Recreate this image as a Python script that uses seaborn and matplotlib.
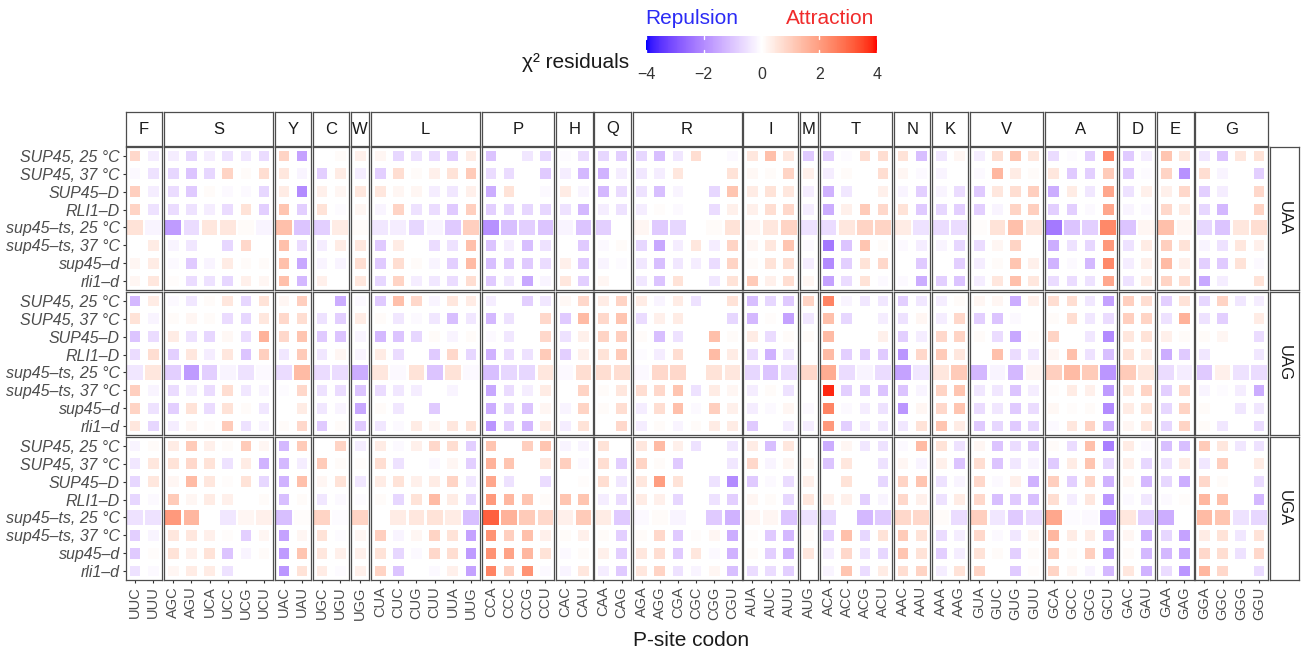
import numpy as np
import pandas as pd
import matplotlib
matplotlib.use("Agg")
import matplotlib.pyplot as plt
from matplotlib.colors import ListedColormap, Normalize
import matplotlib.cm as cm
import seaborn as sns

# ---------------------------------------------------------------- data
stop_codons = ["UAA", "UAG", "UGA"]

strains = [
    "SUP45, 25 \u00b0C", "SUP45, 37 \u00b0C", "SUP45\u2013D", "RLI1\u2013D",
    "sup45\u2013ts, 25 \u00b0C", "sup45\u2013ts, 37 \u00b0C", "sup45\u2013d", "rli1\u2013d",
]

amino_acids = ["F", "S", "Y", "C", "W", "L", "P", "H", "Q", "R",
               "I", "M", "T", "N", "K", "V", "A", "D", "E", "G"]

codons = [
    ["UUC", "UUU"],
    ["AGC", "AGU", "UCA", "UCC", "UCG", "UCU"],
    ["UAC", "UAU"],
    ["UGC", "UGU"],
    ["UGG"],
    ["CUA", "CUC", "CUG", "CUU", "UUA", "UUG"],
    ["CCA", "CCC", "CCG", "CCU"],
    ["CAC", "CAU"],
    ["CAA", "CAG"],
    ["AGA", "AGG", "CGA", "CGC", "CGG", "CGU"],
    ["AUA", "AUC", "AUU"],
    ["AUG"],
    ["ACA", "ACC", "ACG", "ACU"],
    ["AAC", "AAU"],
    ["AAA", "AAG"],
    ["GUA", "GUC", "GUG", "GUU"],
    ["GCA", "GCC", "GCG", "GCU"],
    ["GAC", "GAU"],
    ["GAA", "GAG"],
    ["GGA", "GGC", "GGG", "GGU"],
]

# chi-square residuals, one row per strain, codons in the order above
uaa_residuals = [
    [0.8, -0.3, -0.3, -0.7, -0.3, -0.5, -0.4, -0.6, 0.9, -1.6, 0, 0.1, 0.3, 0.2, -0.7, -0.5, -0.6, -0.8, 0.4,
     -1.0, 0, -0.4, -0.7, -0.05, -0.6, -0.7, -0.8, -0.7, -1.1, -0.4, 0.7, 0, -0.1, 0.5, 1.3, 0.5, -0.9,
     -0.8, -0.05, 0.7, 0.7, 0.6, -1.1, -0.4, 0.2, -0.3, 0.7, 1.2, 0.5, -0.6, -0.05, -0.8, 2.5, -0.9, -0.3,
     1.2, 0.5, -0.4, -1.0, 0.5, 0.6],
    [-0.1, -0.5, -0.7, -1.0, -0.7, 0.9, 0.1, 0.7, 0.5, -0.2, -0.8, 0.4, -0.3, -0.8, 0.7, 0.1, 0.3, 0.6, 1.1,
     -0.6, -0.6, 0, -0.9, -0.3, -1.2, -1.3, -0.3, -0.4, -0.3, 0.5, 0, 0, 0.6, 0.15, 0.1, 0.9, 0.3,
     -0.3, 0.1, 0, 0.7, 0.2, -0.1, -0.2, 0, -0.1, 1.5, 0.4, 0.1, 0.5, -0.9, -0.8, 1.1, -0.9, -0.05,
     0.9, -1.9, 0.7, -0.2, 0, -0.8],
    [1.0, -0.3, -0.6, -0.9, 0.1, -0.1, -0.1, -0.7, 0.4, -2.0, 0.3, 0.2, 0.5, 0.5, 0.2, 0.2, -0.3, -0.4, 0.3,
     -1.4, 0.6, 0, -0.1, 0.4, -0.2, -1.2, -0.6, -0.5, -1.1, -0.2, 0, -0.7, 1.2, 0.4, 0.6, 0.5, -0.3,
     -1.3, -0.4, 0, 0.3, -0.2, -0.8, -0.2, -0.6, -0.9, 0.5, 0.7, 1.0, -1.4, 0.4, -0.4, 1.8, -0.5, 0.3,
     0.3, 0.8, -0.8, -0.3, 0, 0.8],
    [0.9, -0.5, -0.6, -0.5, -0.3, -0.6, 0.6, -0.8, 1.2, -0.8, 0.6, -0.05, 0.2, -0.2, 0.9, -0.5, -0.6, -0.9, 1.0,
     -0.8, -0.7, -0.7, -0.7, -0.5, -1.2, -0.3, -0.5, -0.3, 0.05, -0.1, 0, -0.6, 0.3, 0.3, 0.7, 0.8, -0.3,
     -1.4, 0.3, 1.1, 0.8, 0.6, -0.9, -0.7, -0.8, -0.8, -0.2, 0.9, 1.0, -0.8, -0.8, -0.1, 1.8, -0.2, -0.1,
     0.8, 0.4, -0.7, -1.2, 0, 0.9],
    [0.6, -0.2, -1.7, -0.6, 0.5, 0.5, 0.1, -0.2, 1.3, -1.0, -0.8, 0.4, 0.1, -0.4, -0.3, -0.7, -0.2, -0.9, 1.0,
     -1.9, -1.1, -0.8, -1.0, -0.2, -1.0, -0.8, 0, 0.2, -0.9, -0.7, 0, 0.1, 0.6, 0.2, 0.5, 0.9, -0.5,
     -0.6, 0.5, 0.9, 0.9, 0.4, -0.5, -0.6, -0.6, 0.05, 0.6, 1.3, 0.5, -2.3, -1.0, -0.8, 2.4, -1.0, 0.2,
     1.3, 0.2, -0.7, -1.0, 0.5, 0.7],
    [0, 0.4, -0.2, -0.4, 0, -0.7, 0.8, 0, 1.3, -0.6, -0.3, 0.4, 0.5, -0.9, 0.4, 0, -0.6, -0.5, 1.3,
     -1.0, -0.3, -1.1, -0.5, 0, -0.9, -0.1, 0.1, -0.7, -1.5, -0.3, 0.5, -0.3, 0.9, 0.2, 0.5, 1.2, -0.1,
     -2.3, -1.0, 1.2, 0.1, -0.1, -0.3, -0.2, -0.7, -0.6, 0.2, 0.9, 0, -1.4, -0.5, -0.7, 2.1, -0.5, 0.4,
     1.0, 0.6, -0.2, -0.5, 0.5, 0.3],
    [0.2, 0.4, -0.1, -0.9, -0.2, 0.4, 0.1, 0.1, 1.3, -1.5, -0.2, -0.2, 0.7, -0.9, 0.7, 0.1, -0.2, -0.8, 1.4,
     -1.1, -0.9, -0.9, -0.6, 0.3, -0.9, -0.2, -0.05, -0.4, -1.1, -0.4, -0.3, -0.6, 0.9, 0.1, 0.6, 0.7, -0.3,
     -2.0, -0.8, 0.6, 0.8, 0, -0.9, 0, -0.8, -0.3, 0.1, 1.2, 0.3, -1.3, -0.1, -1.2, 2.4, -0.3, 0.3,
     1.4, 0.3, -0.8, -0.9, 0.6, -0.1],
    [0.2, 0.5, 0.05, -0.6, -0.5, -0.7, 0.3, 0.2, 1.3, -1.2, 0.3, 0, 0.5, -0.7, 0.9, -0.3, -0.4, -0.6, 0.7,
     -0.9, -0.4, -1.5, -0.2, 0.5, -0.8, 0.2, 0, -0.4, -1.0, 0.6, 0, -0.4, 0.6, 1.1, 0.3, 0.7, 0.2,
     -1.6, -0.6, 0.6, -0.1, -0.1, -1.4, -0.8, -1.0, -0.3, 0.5, 1.3, 0.5, -0.6, -0.6, -0.5, 1.8, -0.5, 0.4,
     0.9, 0.7, -1.5, -0.3, 0, 0.6],
]

uag_residuals = [
    [-1.2, 0.4, -0.1, -0.4, 0.1, 0.5, -0.7, 0.6, 0.2, 1.0, 0, -1.4, -0.1, -0.9, 1.3, 0.8, -0.2, 0.5, 0.4,
     -0.3, 0, -0.8, -0.4, 0.15, 0.8, 0.4, 0.9, 0.4, -0.2, 0.4, -0.5, 0, 0.6, -1.1, -0.7, -0.9, 0.9,
     2.5, -0.2, -0.4, -0.4, -0.8, -0.4, -0.3, 0.1, 0.2, 0.2, -1.4, 0.3, 0.7, 0.7, -0.4, -1.6, 1.0, 0.7,
     -0.8, 0.6, -0.7, 0.9, -0.4, -0.3],
    [0.6, -0.2, 0.1, 0.2, 0.1, -0.6, -0.7, 0.5, 0.8, 0.7, -0.5, -0.8, 0.4, 0.1, -0.4, -0.1, -0.4, -1.1, -0.4,
     -1.2, -0.5, 0, 0.8, -0.9, 1.4, 0.8, 1.2, -0.6, 0.3, 0.4, 0, 0, -0.7, -1.2, 0.05, -1.6, -0.4,
     1.3, -0.7, 0, -0.3, -0.5, 0.2, -0.3, 0.8, -0.8, -1.0, -0.1, 0, 0.1, 0.7, -0.4, -0.6, 1.0, 0.9,
     -0.5, 1.6, -0.5, -0.8, 0, 0.4],
    [-1.0, -0.6, 0.4, -0.5, -0.7, 0.15, -0.6, 1.6, 0.8, 1.2, -0.9, -1.0, -0.2, -1.2, -1.0, -0.7, 0.1, -0.2, 0.1,
     -0.1, -0.4, 0, 0.8, -0.5, 0.3, 0.9, 1.0, 0.1, -1.1, -0.5, 0, 1.3, 0.1, 0.4, -0.6, 0.1, 0.1,
     1.4, 0, 0, 0.3, -0.8, -0.3, 0.8, 0.9, 0.1, -0.6, -1.5, 0.05, 0.9, 0, -0.4, -2.0, 0.5, 0.6,
     0.3, 0.1, 0.1, 0.2, 0, -0.6],
    [-0.6, 0.7, -0.8, 0.5, -0.3, 0.5, -1.0, 1.0, -0.4, 1.1, -0.4, 0.2, -0.2, 0.4, -0.6, 0, -0.9, 0.8, -0.7,
     -1.3, -0.6, -0.5, 1.1, -0.8, 0.3, 0.6, 1.1, -0.05, -0.3, 0.7, 0, 1.4, 0.4, -0.6, -1.3, -0.4, 0,
     1.4, -0.8, -0.8, -0.9, -1.8, 0.8, 1.1, 0.5, 0, 1.3, -0.6, -0.4, 0.2, 1.3, -0.5, -1.1, 0.6, 0.4,
     -1.4, -0.9, -0.4, 0, 0, -0.4],
    [-0.4, 0.5, -0.8, -1.7, -0.8, -0.2, -0.5, -0.1, -0.6, 1.4, -0.6, -0.6, -1.4, 0.5, -0.1, 0.6, -1.0, 0.6, -0.1,
     -1.1, -0.7, -0.7, 0.5, -0.1, 0.7, 0.7, 0.7, -0.1, 0.8, 0.8, 0, 0.6, 0.5, -0.7, -1.0, -0.6, 0.8,
     1.7, -0.6, -0.2, -0.6, -1.6, -0.4, 0.5, 1.1, -1.2, -0.2, -1.2, 0.2, 1.0, 1.4, 1.1, -1.8, 1.1, 0.5,
     -0.6, -0.3, -0.9, 0.3, -0.5, -0.6],
    [1.0, -0.2, -0.6, -0.3, -0.6, 0.7, -0.4, -0.2, -0.05, 0.8, -0.5, -0.6, -1.0, -0.6, -0.4, -0.3, 0, -0.2, 0,
     -1.5, -0.6, -0.3, 0.4, 0, 0.9, 0.1, 0.5, 0.7, 0.8, 1.2, -0.5, 0.4, 0.2, -0.3, 0.1, -0.5, 0,
     3.8, -0.8, -0.8, -1.0, -1.0, -0.2, 0.9, 1.2, -0.4, -0.4, -1.0, -0.3, 0.05, 0.4, 0.3, -1.7, 0.5, 0.9,
     -0.8, 0.8, -0.2, -0.05, -0.3, -1.4],
    [0.9, -0.5, -0.8, 0.6, -0.6, 0.6, 0.1, -0.4, 0, 0.4, -0.4, -0.2, -1.5, 0.1, -0.4, 0, -0.9, 0, 0,
     -1.4, -0.7, -1.0, 0.2, -0.2, 0.9, 0.1, 0.7, -0.3, 0.7, 1.3, -0.1, 1.0, 0.3, -0.3, -0.1, 0.2, -0.1,
     2.5, -0.1, -0.3, -0.5, -1.8, 0.2, 0.8, 1.2, -0.6, -0.4, -0.9, -0.6, 0.15, 0.05, 0.1, -2.0, 0.4, 0.6,
     -0.7, 0.9, 0.1, 0, -0.4, -0.4],
    [0.5, -0.7, -0.3, 0.2, 0.05, 1.1, -0.5, -0.2, 0.1, 0.8, -0.9, 0.1, -0.9, -0.4, -0.1, 0.4, 0.2, 0.5, 0.6,
     -1.8, -0.8, -1.2, 0.4, -0.3, 0.6, 0, 0.8, -0.3, 0.1, -0.2, 0.1, 0.4, 0.4, -0.9, 0, -0.3, -0.3,
     2.1, -0.8, -0.3, -0.4, -0.4, 0.6, 1.2, 0.4, -0.9, -0.7, -0.9, -0.7, -0.1, 0.5, 0.9, -1.4, 0.2, 0.5,
     -0.7, 0.9, 0.1, -0.4, 0, -0.6],
]

uga_residuals = [
    [-0.2, 0.1, 0.4, 1.1, 0.3, 0.1, 1.1, 0.2, -1.2, 1.1, 0, 0.9, -0.3, 0.4, -0.1, 0.3, 0.8, 0.7, -0.8,
     1.2, 0, 1.0, 1.2, -0.2, -0.2, 0.6, 0, 0.5, 1.4, 0.3, -0.5, 0, -0.4, 0.4, -1.1, 0.5, 0,
     -1.4, 0.2, -0.4, -0.5, -0.1, 1.4, 0.6, -0.5, 0.2, -1.0, -0.6, -0.8, 0.1, -0.6, 1.3, -2.2, 0.4, -0.1,
     -1.1, -1.1, 1.1, 0.5, -0.4, -0.5],
    [-0.4, 0.5, 0.6, 0.8, 0.6, -0.5, 0.4, -1.3, -1.2, -0.3, 1.1, 0.1, 0.05, 0.7, -0.5, 0, -0.1, 0.2, -0.8,
     1.6, 1.2, 0, 0.5, 1.0, -0.1, 0.7, -0.8, 0.9, 0.1, -0.9, 0, 0, -0.4, 0.8, -0.2, 0.2, 0.15,
     -1.0, 0.5, 0, -0.5, 0.2, -0.2, 0.3, -1.0, 0.7, -1.0, -0.4, -0.2, -0.9, 0.4, 1.2, -0.7, 0.3, -0.7,
     -0.5, 0.4, -0.4, 1.0, 0, 0.4],
    [-0.7, 0.5, 0.2, 1.4, 0.5, 0.05, 0.6, -0.7, -1.3, 1.3, 0.2, 0.6, -0.4, 0.4, 0.6, 0.3, 0.4, 0.9, -0.4,
     1.8, -0.5, 0, -0.6, 0, 0.05, 0.7, -0.4, 0.5, 2.0, 0.6, 0, -0.5, -2.0, -0.9, -0.1, -0.6, 0.3,
     0, 0.6, 0, -0.7, 0.9, 1.2, -0.5, -0.2, 0.8, -0.1, 0.3, -1.3, 1.0, -0.8, 0.9, -1.3, 0.2, -1.2,
     -0.7, -1.4, 0.8, 0.1, 0, -0.6],
    [-0.7, -0.1, 1.1, 0.2, 0.4, 0.3, 0, 0.1, -1.1, 0.1, -0.4, -0.1, -0.05, 0.1, -0.7, 0.6, 1.4, 0.4, -0.7,
     2.1, 1.5, 1.2, 0.1, 1.2, 1.2, -0.3, -0.6, 0.4, 0.3, -0.7, 0, -0.5, -0.8, 0.2, 0.1, -0.7, 0.5,
     0.3, 0.3, -0.8, -0.2, 0.8, 0.3, -0.5, 0.4, 0.8, -1.1, -0.9, -1.1, 0.7, -0.3, 0.5, -1.8, -0.1, -0.4,
     -0.1, 0.05, 1.5, 1.3, 0, -1.2],
    [-0.5, -0.5, 2.1, 1.5, 0, -0.4, 0.2, 0.3, -1.1, 0.05, 0.9, -0.05, 0.9, 0, 0.4, 0.5, 0.6, 0.4, -1.1,
     3.1, 1.6, 1.1, 0.8, 0.3, 1.1, 0.4, -0.9, -0.1, 0.1, -0.2, 0, -0.9, -1.3, 0.2, 0.2, -1.0, -0.5,
     -0.7, 0, -1.2, -0.9, 0.8, 0.8, 0.1, -0.6, 1.0, -0.4, -0.9, -0.6, 1.8, -0.05, -0.1, -1.8, 0.5, -0.8,
     -1.4, 0, 1.4, 1.2, -0.5, -0.7],
    [-0.8, -0.2, 0.5, 0.5, 0.3, 0.05, -0.8, 0.2, -1.6, 0.2, 0.6, -0.05, 0.2, 1.0, -0.2, 0.2, 0.9, 0.6, -1.6,
     2.2, 1.0, 1.3, 0.3, 0.1, 0.3, 0.1, -0.8, 0.1, 0.8, -0.9, 0.05, 0.2, -1.4, 0.05, -0.9, -1.2, 0.1,
     -0.8, 1.3, -0.7, 0.6, 1.1, 0.6, -0.6, -0.3, 0.8, -0.1, -0.4, 0.2, 1.5, 0.4, 0.4, -1.5, 0.2, -1.4,
     -0.7, -1.6, 0.4, 0.6, -0.4, 0.6],
    [-0.9, 0.05, 0.6, 0.3, 0.6, -1.0, -0.2, 0.1, -1.7, 1.2, 0.5, 0.3, 0.3, 0.6, -0.7, -0.1, 0.8, 0.7, -1.7,
     2.2, 1.9, 1.5, 0.6, -0.1, 0.1, 0.3, -0.8, 0.5, 0.7, -0.9, 0.5, -0.1, -1.3, 0.1, -0.8, -1.3, 0.5,
     -0.3, 0.8, -0.5, -0.7, 1.2, 0.6, -0.8, -0.3, 0.6, 0.1, -0.8, 0.1, 1.1, 0.1, 1.0, -1.7, 0.1, -1.2,
     -1.2, -1.5, 0.8, 0.7, -0.5, 0.8],
    [-0.5, -0.1, 0.2, 0.4, 0.4, -0.5, 0, 0, -1.8, 0.6, 0.4, -0.05, 0.3, 0.9, -1.0, 0, -0.1, 0.3, -1.6,
     2.5, 1.0, 2.2, -0.1, -0.2, 0.5, -0.3, -0.9, 0.5, 0.9, -0.5, -0.2, 0.2, -1.1, -0.6, -0.6, -0.8, 0,
     -0.2, 1.2, -0.6, 0.4, 0.7, 0.9, -0.3, 0.6, 0.9, 0, -0.9, 0.05, 0.9, 0.2, -0.2, -1.2, 0.5, -1.3,
     -0.6, -1.8, 1.5, 0.8, 0, -0.6],
]

# the high-depth sample is drawn with full-size tiles
wide_tile_strain = "sup45\u2013ts, 25 \u00b0C"

# ---------------------------------------------------------------- long table
all_codons = [c for group in codons for c in group]
codon_aa = [aa for aa, group in zip(amino_acids, codons) for _ in group]
codon_pos = [i for group in codons for i in range(len(group))]

records = []
for stop, table in zip(stop_codons, [uaa_residuals, uag_residuals, uga_residuals]):
    for r, (strain, values) in enumerate(zip(strains, table)):
        for codon, aa, pos, v in zip(all_codons, codon_aa, codon_pos, values):
            records.append(dict(stop=stop, strain=strain, row=r, aa=aa, codon=codon,
                                pos=pos, residual=v,
                                tile="wide" if strain == wide_tile_strain else "narrow"))
df = pd.DataFrame(records)

# ---------------------------------------------------------------- colour scale (Lab interpolation)
_M = np.array([[0.4124564, 0.3575761, 0.1804375],
               [0.2126729, 0.7151522, 0.0721750],
               [0.0193339, 0.1191920, 0.9503041]])
_WHITE = np.array([0.95047, 1.0, 1.08883])


def srgb_to_lab(rgb):
    c = np.asarray(rgb, float)
    lin = np.where(c <= 0.04045, c / 12.92, ((c + 0.055) / 1.055) ** 2.4)
    t = (_M @ lin) / _WHITE
    d = 6 / 29
    f = np.where(t > d ** 3, np.cbrt(t), t / (3 * d * d) + 4 / 29)
    return np.array([116 * f[1] - 16, 500 * (f[0] - f[1]), 200 * (f[1] - f[2])])


def lab_to_srgb(lab):
    L, a, b = lab
    fy = (L + 16) / 116
    fx, fz = fy + a / 500, fy - b / 200
    d = 6 / 29
    finv = lambda f: np.where(f > d, f ** 3, 3 * d * d * (f - 4 / 29))
    xyz = np.array([finv(fx), finv(fy), finv(fz)]) * _WHITE
    lin = np.clip(np.linalg.solve(_M, xyz), 0, 1)
    return np.clip(np.where(lin <= 0.0031308, 12.92 * lin, 1.055 * lin ** (1 / 2.4) - 0.055), 0, 1)


low, mid, high = srgb_to_lab([0, 0, 1]), srgb_to_lab([1, 1, 1]), srgb_to_lab([1, 0, 0])
colors = []
for t in np.linspace(-1, 1, 257):
    lab = mid + (low - mid) * (-t) if t < 0 else mid + (high - mid) * t
    colors.append(lab_to_srgb(lab))
residual_cmap = ListedColormap(colors)
norm = Normalize(-4, 4)

# ---------------------------------------------------------------- figure
sns.set_theme(style="white")
plt.rcParams["font.family"] = ["Liberation Sans", "DejaVu Sans"]

W, H = 1306, 654
fig = plt.figure(figsize=(W / 100, H / 100), dpi=100)


def box(x, y, w, h):
    return [x / W, 1 - (y + h) / H, w / W, h / H]


frame_col = "#4D4D4D"
frame_lw = 0.9
left, right = 126.0, 1268.0
gap = 1.8
unit = (right - left - gap * (len(amino_acids) - 1)) / len(all_codons)
panel_top, panel_gap = 147.0, 2.0
panel_h = (580.0 - panel_top - 2 * panel_gap) / 3

x0 = left
x_starts = []
for group in codons:
    x_starts.append(x0)
    x0 += unit * len(group) + gap


def frame(ax):
    for sp in ax.spines.values():
        sp.set_visible(True)
        sp.set_color(frame_col)
        sp.set_linewidth(frame_lw)


for i, stop in enumerate(stop_codons):
    y = panel_top + i * (panel_h + panel_gap)
    for j, (aa, group) in enumerate(zip(amino_acids, codons)):
        n = len(group)
        ax = fig.add_axes(box(x_starts[j], y, unit * n, panel_h))
        sub = df[(df.stop == stop) & (df.aa == aa)]
        sns.scatterplot(data=sub, x="pos", y="row", hue="residual", palette=residual_cmap,
                        hue_norm=norm, size="tile", sizes={"wide": 128, "narrow": 59},
                        marker="s", linewidth=0, edgecolor="none", legend=False, ax=ax)
        ax.set_xlim(-0.5, n - 0.5)
        ax.set_ylim(7.5, -0.5)
        ax.set_xlabel("")
        ax.set_ylabel("")
        ax.set_xticks(range(n))
        ax.set_yticks(range(len(strains)))
        if i == len(stop_codons) - 1:
            ax.set_xticklabels(group, rotation=90, fontsize=10.5, color="#4D4D4D")
            ax.tick_params(axis="x", bottom=True, length=2.5, width=0.8, color="#333333", pad=2)
        else:
            ax.set_xticklabels([])
            ax.tick_params(axis="x", bottom=False)
        if j == 0:
            ax.set_yticklabels(strains, fontsize=11.5, color="#4D4D4D", style="italic")
            ax.tick_params(axis="y", left=True, length=2.5, width=0.8, color="#333333", pad=2)
        else:
            ax.set_yticklabels([])
            ax.tick_params(axis="y", left=False)
        frame(ax)

        if i == 0:
            st = fig.add_axes(box(x_starts[j], 112, unit * n, 34))
            st.set_xticks([])
            st.set_yticks([])
            frame(st)
            st.text(0.5, 0.5, aa, ha="center", va="center", fontsize=12, color="#1A1A1A",
                    transform=st.transAxes)

    rs = fig.add_axes(box(right + 2, y, 29, panel_h))
    rs.set_xticks([])
    rs.set_yticks([])
    frame(rs)
    rs.text(0.5, 0.5, stop, ha="center", va="center", rotation=-90, fontsize=12,
            color="#1A1A1A", transform=rs.transAxes)

fig.text(691 / W, 1 - 640 / H, "P-site codon", ha="center", va="center", fontsize=15, color="#1A1A1A")

# ---------------------------------------------------------------- legend
cax = fig.add_axes(box(646, 36, 231, 17))
cb = fig.colorbar(cm.ScalarMappable(norm=norm, cmap=residual_cmap), cax=cax, orientation="horizontal")
cb.outline.set_visible(False)
cb.set_ticks([-4, -2, 0, 2, 4])
cax.tick_params(axis="x", length=0, labelsize=11.5, labelcolor="#333333", pad=10)
for v in [-4, -2, 0, 2, 4]:
    cax.plot([v, v], [0, 0.2], color="white", lw=1, transform=cax.get_xaxis_transform())
    cax.plot([v, v], [0.8, 1], color="white", lw=1, transform=cax.get_xaxis_transform())

fig.text(629 / W, 1 - 62 / H, "\u03c7\u00b2 residuals", ha="right", va="center", fontsize=15, color="#1A1A1A")
fig.text(692 / W, 1 - 19 / H, "Repulsion", ha="center", va="center", fontsize=15, color="#2B2BF5")
fig.text(830 / W, 1 - 19 / H, "Attraction", ha="center", va="center", fontsize=15, color="#F02B2B")

fig.savefig("out.png", dpi=100, facecolor="white")
